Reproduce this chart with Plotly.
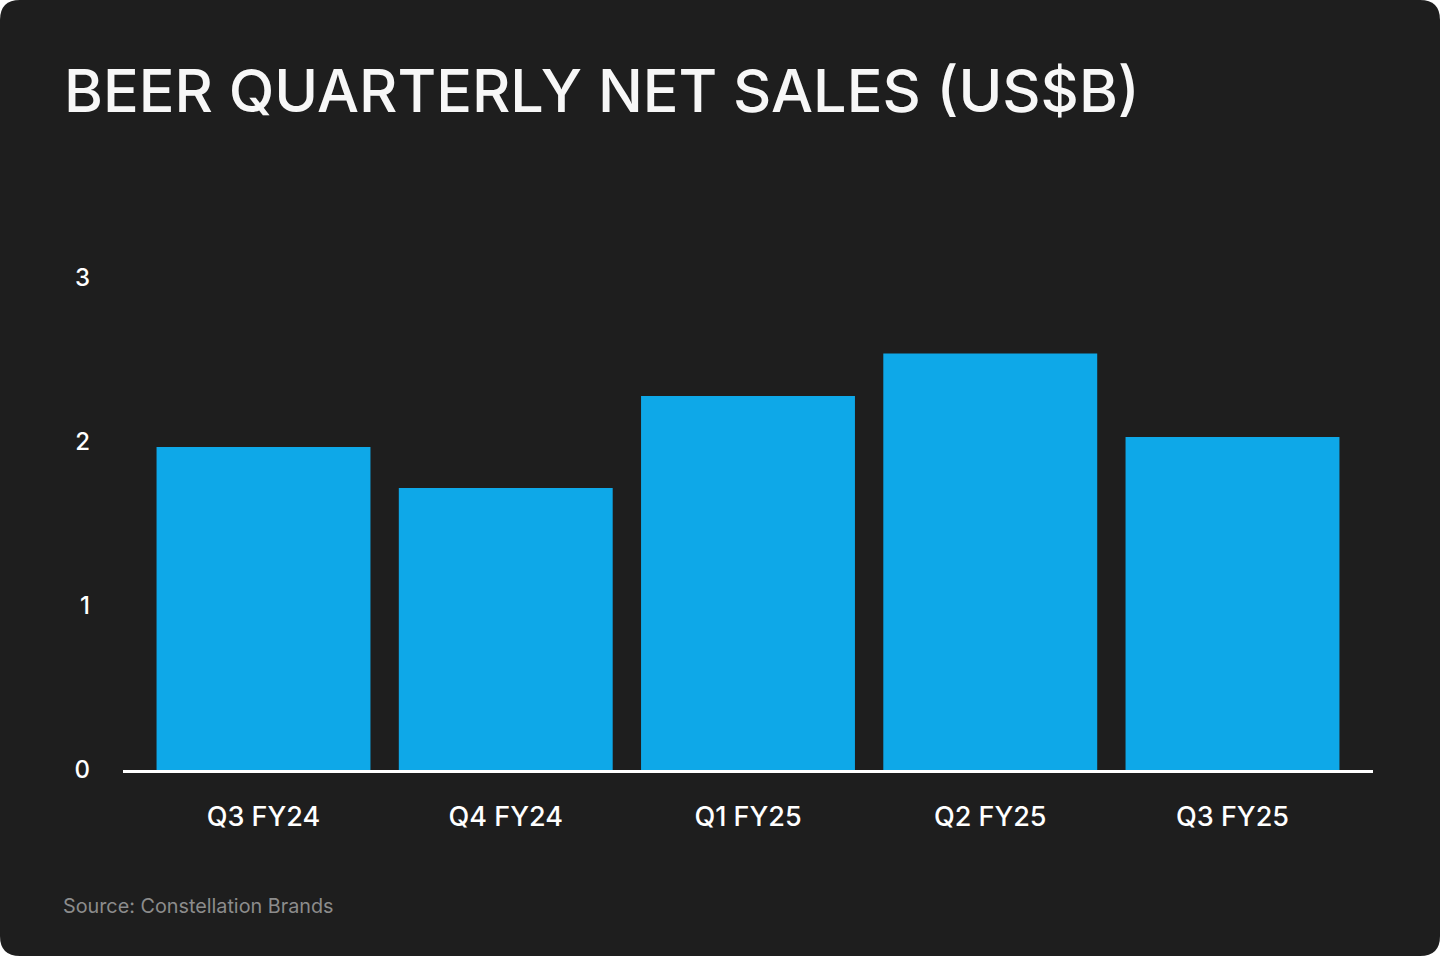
import plotly.graph_objects as go

categories = ["Q3 FY24", "Q4 FY24", "Q1 FY25", "Q2 FY25", "Q3 FY25"]
net_sales = [1.97, 1.72, 2.28, 2.54, 2.03]
y_ticks = [0, 1, 2, 3]

W, H = 1440, 956
ML, MR, MT, MB = 123, W - 1373, 200, H - 770
PW, PH = W - ML - MR, H - MT - MB
BG = "#1e1e1e"
BAR = "#0ea8e8"


def px(x):
    return (x - ML) / PW


def py(y):
    return (H - MB - y) / PH


r = 20
path = (
    f"M {px(r)},{py(0)} L {px(W - r)},{py(0)} Q {px(W)},{py(0)} {px(W)},{py(r)} "
    f"L {px(W)},{py(H - r)} Q {px(W)},{py(H)} {px(W - r)},{py(H)} "
    f"L {px(r)},{py(H)} Q {px(0)},{py(H)} {px(0)},{py(H - r)} "
    f"L {px(0)},{py(r)} Q {px(0)},{py(0)} {px(r)},{py(0)} Z"
)

fig = go.Figure(
    go.Bar(
        x=categories,
        y=net_sales,
        marker=dict(color=BAR, line=dict(width=0)),
        hoverinfo="skip",
    )
)

fig.update_layout(
    width=W,
    height=H,
    margin=dict(l=ML, r=MR, t=MT, b=MB),
    paper_bgcolor="white",
    plot_bgcolor="rgba(0,0,0,0)",
    bargap=0.117,
    showlegend=False,
    font=dict(family="Inter, sans-serif", color="white"),
    title=dict(
        text="BEER QUARTERLY NET SALES (US$B)",
        font=dict(size=59.3, color="#f7f7f7", family="Inter, sans-serif", weight=500),
        x=64 / W,
        xanchor="left",
        xref="container",
        y=1 - 91 / H,
        yanchor="middle",
        yref="container",
    ),
    shapes=[
        dict(
            type="path",
            path=path,
            xref="paper",
            yref="paper",
            fillcolor=BG,
            line=dict(width=0),
            layer="below",
        )
    ],
    annotations=[
        dict(
            text="Source: Constellation Brands",
            xref="paper",
            yref="paper",
            x=px(61),
            y=py(906),
            xanchor="left",
            yanchor="middle",
            showarrow=False,
            font=dict(size=19.8, color="#8c8c8c", family="Inter, sans-serif"),
        )
    ],
)

fig.update_xaxes(
    range=[-0.58, 4.58],
    showgrid=False,
    zeroline=False,
    showline=True,
    linecolor="white",
    linewidth=3,
    ticks="",
    tickfont=dict(size=27, color="white", weight=500),
    ticklabelstandoff=21,
    fixedrange=True,
)
fig.update_yaxes(
    range=[0, PH / 164],
    tickvals=y_ticks,
    ticktext=[str(v) for v in y_ticks],
    showgrid=False,
    zeroline=False,
    showline=False,
    ticks="",
    tickfont=dict(size=24, color="white", weight=500),
    ticklabelstandoff=32,
    fixedrange=True,
)

fig.write_html("out.html", config={"displayModeBar": False})
